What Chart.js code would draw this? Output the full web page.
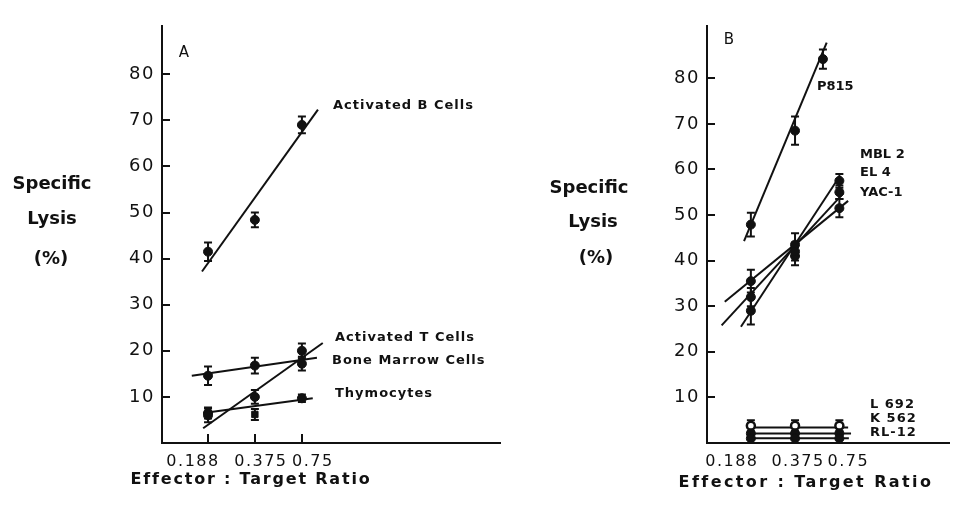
<!DOCTYPE html>
<html>
<head>
<meta charset="utf-8">
<title>Specific lysis vs effector:target ratio</title>
<script src="https://cdn.jsdelivr.net/npm/chart.js@4"></script>
<style>
    html, body { margin: 0; padding: 0; background: #fff; }
    #wrap { position: relative; width: 955px; height: 508px; overflow: hidden; }
    canvas { position: absolute; top: 0; }
    #panelA { left: 0; }
    #panelB { left: 520px; }
</style>
</head>
<body>
<div id="wrap">
    <canvas id="panelA" width="520" height="508"></canvas>
    <canvas id="panelB" width="435" height="508"></canvas>
</div>
<script>
// shared axes
const ratios = [0.188, 0.375, 0.75];
const ratioLabels = ['0.188', '0.375', '0.75'];
const yTicks = [10, 20, 30, 40, 50, 60, 70, 80];

// Panel A - specific lysis (%) with error
const bCells = [41.5, 48.4, 69];
const bCellsErr = [2, 1.6, 1.8];
const tCells = [6, 10, 20];
const tCellsErr = [1.5, 1.5, 1.6];
const boneMarrow = [14.6, 16.8, 17.2];
const boneMarrowErr = [2, 1.7, 1.5];
const thymocytes = [6.5, 6.2, 9.7];
const thymocytesErr = [1.2, 1.2, 0.8];

// Panel A fitted lines: [ratio, lysis] at both ends
const bCellsFit = [[0.172, 37.2], [0.95, 72.3]];
const tCellsFit = [[0.175, 3.2], [1.02, 21.7]];
const boneMarrowFit = [[0.148, 14.6], [0.936, 18.5]];
const thymocytesFit = [[0.176, 6.5], [0.88, 9.7]];

// Panel B - tumour targets
const p815Ratios = [0.188, 0.375, 0.58];
const p815 = [47.9, 68.5, 84.2];
const p815Err = [2.6, 3.1, 2.1];
const mbl2 = [29, 42, 57.5];
const mbl2Err = [3, 2, 1.5];
const el4 = [32, 41, 55];
const el4Err = [2, 2, 1.5];
const yac1 = [35.5, 43.5, 51.5];
const yac1Err = [2.5, 2.5, 2];
const l692 = [3.8, 3.8, 3.8];
const l692Err = [1.2, 1.2, 1.2];
const k562 = [2.1, 2.1, 2.1];
const rl12 = [1, 1, 1];

// Panel B fitted lines
const p815Fit = [[0.169, 44.3], [0.615, 87.8]];
const mbl2Fit = [[0.161, 25.5], [0.75, 58.4]];
const el4Fit = [[0.119, 25.8], [0.8, 54.8]];
const yac1Fit = [[0.125, 31], [0.86, 53.1]];
const l692Fit = [[0.188, 3.4], [0.86, 3.4]];
const k562Fit = [[0.188, 2.1], [0.9, 2.1]];
const rl12Fit = [[0.188, 1.05], [0.87, 1.05]];

const ink = '#111';
Chart.defaults.font.family = "'DejaVu Sans', sans-serif";
Chart.defaults.color = ink;

function markers(label, xs, ys, errs, extra = {}) {
    return Object.assign({
        label,
        data: xs.map((x, i) => ({ x, y: ys[i] })),
        errors: errs,
        showLine: false,
        pointRadius: 4.5,
        pointStyle: 'circle',
        pointBackgroundColor: ink,
        pointBorderColor: ink,
        pointBorderWidth: 1
    }, extra);
}

function fitLine(label, ends) {
    return {
        label,
        data: ends.map(([x, y]) => ({ x, y })),
        showLine: true,
        borderColor: ink,
        borderWidth: 2,
        pointRadius: 0,
        pointHoverRadius: 0
    };
}

// vertical error bars with caps, drawn under the markers
const errorBars = {
    id: 'errorBars',
    beforeDatasetsDraw(chart) {
        const { ctx, scales: { x, y } } = chart;
        ctx.save();
        ctx.strokeStyle = ink;
        ctx.lineWidth = 2;
        chart.data.datasets.forEach(ds => {
            if (!ds.errors) return;
            ds.data.forEach((p, j) => {
                const e = ds.errors[j];
                if (!e) return;
                const px = x.getPixelForValue(p.x);
                const top = y.getPixelForValue(p.y + e);
                const bot = y.getPixelForValue(p.y - e);
                ctx.beginPath();
                ctx.moveTo(px, top); ctx.lineTo(px, bot);
                ctx.moveTo(px - 4, top); ctx.lineTo(px + 4, top);
                ctx.moveTo(px - 4, bot); ctx.lineTo(px + 4, bot);
                ctx.stroke();
            });
        });
        ctx.restore();
    }
};

// wider tracking on tick labels, like the original lettering
const tracking = {
    id: 'tracking',
    beforeUpdate(chart) { chart.ctx.letterSpacing = '1.5px'; },
    beforeDraw(chart) { chart.ctx.letterSpacing = '1.5px'; }
};

// the hand-lettered x labels sit a little off their ticks
const labelNudge = {
    id: 'labelNudge',
    beforeDraw(chart, args, opts) {
        const items = chart.scales.x.getLabelItems(chart.chartArea);
        items.forEach((it, i) => {
            if (it._nudged) return;
            it.options.translation[0] += opts.dx[i] || 0;
            it._nudged = true;
        });
    }
};

// axis titles, panel letters and series names
const notes = {
    id: 'notes',
    afterDraw(chart, args, opts) {
        const ctx = chart.ctx;
        (opts.items || []).forEach(n => {
            ctx.save();
            ctx.fillStyle = ink;
            ctx.font = `${n.bold ? 'bold ' : ''}${n.size}px 'DejaVu Sans', sans-serif`;
            ctx.letterSpacing = (n.spacing || 0) + 'px';
            ctx.textAlign = n.align || 'left';
            ctx.textBaseline = 'middle';
            ctx.fillText(n.text, n.x, n.y);
            ctx.restore();
        });
    }
};

function axes(xMin, xMax, yMax, yWidth) {
    return {
        x: {
            type: 'logarithmic',
            min: xMin,
            max: xMax,
            afterBuildTicks: s => { s.ticks = ratios.map(v => ({ value: v })); },
            afterFit: s => { s.height = 65; },
            grid: { drawOnChartArea: false, tickLength: -9, color: ink, lineWidth: 2 },
            border: { color: ink, width: 2 },
            ticks: {
                autoSkip: false, maxRotation: 0, padding: 18,
                font: { size: 16 }, color: ink,
                callback: (v, i) => ratioLabels[i]
            }
        },
        y: {
            type: 'linear',
            min: 0,
            max: yMax,
            afterBuildTicks: s => { s.ticks = yTicks.map(v => ({ value: v })); },
            afterFit: s => { s.width = yWidth; },
            grid: { drawOnChartArea: false, tickLength: -8, color: ink, lineWidth: 2 },
            border: { color: ink, width: 2 },
            ticks: { padding: 15, font: { size: 18 }, color: ink }
        }
    };
}

function baseOptions(padding, scales, nudge, items) {
    return {
        responsive: false,
        animation: false,
        events: [],
        layout: { padding },
        scales,
        plugins: {
            legend: { display: false },
            tooltip: { enabled: false },
            labelNudge: { dx: nudge },
            notes: { items }
        }
    };
}

const bold13 = { size: 13, bold: true, spacing: 1 };

new Chart(document.getElementById('panelA'), {
    type: 'scatter',
    data: {
        datasets: [
            markers('Activated B Cells', ratios, bCells, bCellsErr),
            markers('Activated T Cells', ratios, tCells, tCellsErr),
            markers('Bone Marrow Cells', ratios, boneMarrow, boneMarrowErr),
            markers('Thymocytes', ratios, thymocytes, thymocytesErr, { pointStyle: ['circle', 'rect', 'circle'] }),
            fitLine('Activated B Cells fit', bCellsFit),
            fitLine('Activated T Cells fit', tCellsFit),
            fitLine('Bone Marrow Cells fit', boneMarrowFit),
            fitLine('Thymocytes fit', thymocytesFit)
        ]
    },
    options: baseOptions(
        { top: 22, right: 20, bottom: 0, left: 0 },
        axes(0.0954, 13.9, 90.5, 162),
        [-15, 6, 11],
        [
            { text: 'A', x: 184, y: 53, size: 15, align: 'center' },
            { text: 'Specific', x: 52, y: 184, size: 18, bold: true, align: 'center' },
            { text: 'Lysis', x: 52, y: 219, size: 18, bold: true, align: 'center' },
            { text: '(%)', x: 51, y: 259, size: 18, bold: true, align: 'center' },
            { text: 'Effector : Target Ratio', x: 251, y: 480, size: 16, bold: true, spacing: 1.8, align: 'center' },
            Object.assign({ text: 'Activated B Cells', x: 333, y: 106 }, bold13),
            Object.assign({ text: 'Activated T Cells', x: 335, y: 338 }, bold13),
            Object.assign({ text: 'Bone Marrow Cells', x: 332, y: 361 }, bold13),
            Object.assign({ text: 'Thymocytes', x: 335, y: 394 }, bold13)
        ]
    ),
    plugins: [tracking, labelNudge, errorBars, notes]
});

new Chart(document.getElementById('panelB'), {
    type: 'scatter',
    data: {
        datasets: [
            markers('P815', p815Ratios, p815, p815Err),
            markers('MBL 2', ratios, mbl2, mbl2Err),
            markers('EL 4', ratios, el4, el4Err),
            markers('YAC-1', ratios, yac1, yac1Err),
            markers('RL-12', ratios, rl12, null),
            markers('K 562', ratios, k562, null),
            markers('L 692', ratios, l692, l692Err, { pointBackgroundColor: '#fff', pointBorderWidth: 2.5, pointRadius: 4 }),
            fitLine('P815 fit', p815Fit),
            fitLine('MBL 2 fit', mbl2Fit),
            fitLine('EL 4 fit', el4Fit),
            fitLine('YAC-1 fit', yac1Fit),
            fitLine('L 692 fit', l692Fit),
            fitLine('K 562 fit', k562Fit),
            fitLine('RL-12 fit', rl12Fit)
        ]
    },
    options: baseOptions(
        { top: 7, right: 0, bottom: 0, left: 0 },
        axes(0.0947, 4.13, 91.5, 187),
        [-19, 3, 9],
        [
            { text: 'B', x: 209, y: 40, size: 15, align: 'center' },
            { text: 'Specific', x: 69, y: 188, size: 18, bold: true, align: 'center' },
            { text: 'Lysis', x: 73, y: 222, size: 18, bold: true, align: 'center' },
            { text: '(%)', x: 76, y: 258, size: 18, bold: true, align: 'center' },
            { text: 'Effector : Target Ratio', x: 286, y: 483, size: 16, bold: true, spacing: 2.4, align: 'center' },
            { text: 'P815', x: 297, y: 87, size: 13, bold: true },
            { text: 'MBL 2', x: 340, y: 155, size: 13, bold: true },
            { text: 'EL 4', x: 340, y: 173, size: 13, bold: true },
            { text: 'YAC-1', x: 340, y: 193, size: 13, bold: true },
            { text: 'L 692', x: 350, y: 405, size: 13, bold: true, spacing: 1 },
            { text: 'K 562', x: 350, y: 419, size: 13, bold: true, spacing: 1 },
            { text: 'RL-12', x: 350, y: 433, size: 13, bold: true, spacing: 1 }
        ]
    ),
    plugins: [tracking, labelNudge, errorBars, notes]
});
</script>
</body>
</html>
